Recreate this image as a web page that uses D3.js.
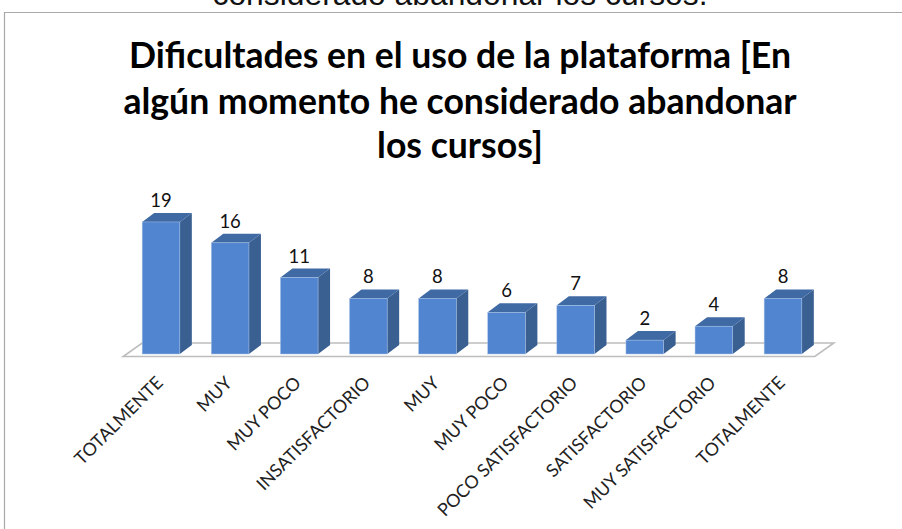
<!DOCTYPE html>
<html><head><meta charset="utf-8">
<script src="https://cdn.jsdelivr.net/npm/d3@7/dist/d3.min.js"></script>
<style>html,body{margin:0;padding:0;background:#fff}svg{display:block}</style>
</head><body><svg id="c" width="902" height="529"></svg>
<script>
const categories = ["TOTALMENTE","MUY","MUY POCO","INSATISFACTORIO","MUY","MUY POCO","POCO SATISFACTORIO","SATISFACTORIO","MUY SATISFACTORIO","TOTALMENTE"];
const values = [19,16,11,8,8,6,7,2,4,8];
const titleLines = ["Dificultades en el uso de la plataforma [En","algún momento he considerado abandonar","los cursos]"];
const captionTail = "considerado abandonar los cursos.";

const svg = d3.select("#c");
const W = 902, H = 529;
const x = d3.scaleBand().domain(d3.range(categories.length)).range([109, 835]).paddingInner(0.455).paddingOuter(0.48);
const baseY = 354, unit = 6.95;
const y = d3.scaleLinear().domain([0,19]).range([baseY, baseY-19*unit]);
const dx = 12, dy = -9;

svg.append("text").attr("x",460).attr("y",4.5).attr("text-anchor","middle")
  .attr("font-family","Liberation Sans").attr("font-size",31.8).attr("fill","#111").text(captionTail);
svg.append("path").attr("d",`M4.5 529V12.5H${W}`).attr("fill","none").attr("stroke","#a9a9a9").attr("stroke-width",1.2);

const titleY = [68,114,158];
svg.append("g").selectAll("text").data(titleLines).join("text")
  .attr("x",460).attr("y",(d,i)=>titleY[i]).attr("text-anchor","middle")
  .attr("font-family","Lato").attr("font-weight",700).attr("font-size",35.6).attr("fill","#000")
  .text(d=>d);

const x0=x(0), xN=x(categories.length-1)+x.bandwidth();
svg.append("path").attr("d",`M${x0-19} 356.5H${xN+13}L${xN+32} 343H${x0}Z`)
  .attr("fill","#fff").attr("stroke","#bdbdbd").attr("stroke-width",1.6);

const bars = svg.append("g").selectAll("g").data(values).join("g");
const w = x.bandwidth();
bars.append("path").attr("fill","#3a6092")
  .attr("d",(d,i)=>`M${x(i)+w} ${y(d)}l${dx} ${dy}V${baseY+dy}l${-dx} ${-dy}Z`);
bars.append("path").attr("fill","#3f6aa3")
  .attr("d",(d,i)=>`M${x(i)} ${y(d)}l${dx} ${dy}h${w}l${-dx} ${-dy}Z`);
bars.append("rect").attr("x",(d,i)=>x(i)).attr("y",d=>y(d)).attr("width",w).attr("height",d=>baseY-y(d))
  .attr("fill","#5285cf").attr("stroke","#a9c3e6").attr("stroke-width",.5);
bars.append("text").attr("x",(d,i)=>x(i)+w/2).attr("y",d=>y(d)+dy-6).attr("text-anchor","middle")
  .attr("font-family","Lato").attr("font-size",18.5).attr("fill","#111").text(d=>d);

svg.append("g").selectAll("text").data(categories).join("text")
  .attr("text-anchor","end")
  .attr("transform",(d,i)=>`translate(${x(i)+w/2+3},384) rotate(-45)`)
  .attr("font-family","Lato").attr("font-size",17.9).attr("fill","#222").text(d=>d);
</script></body></html>
